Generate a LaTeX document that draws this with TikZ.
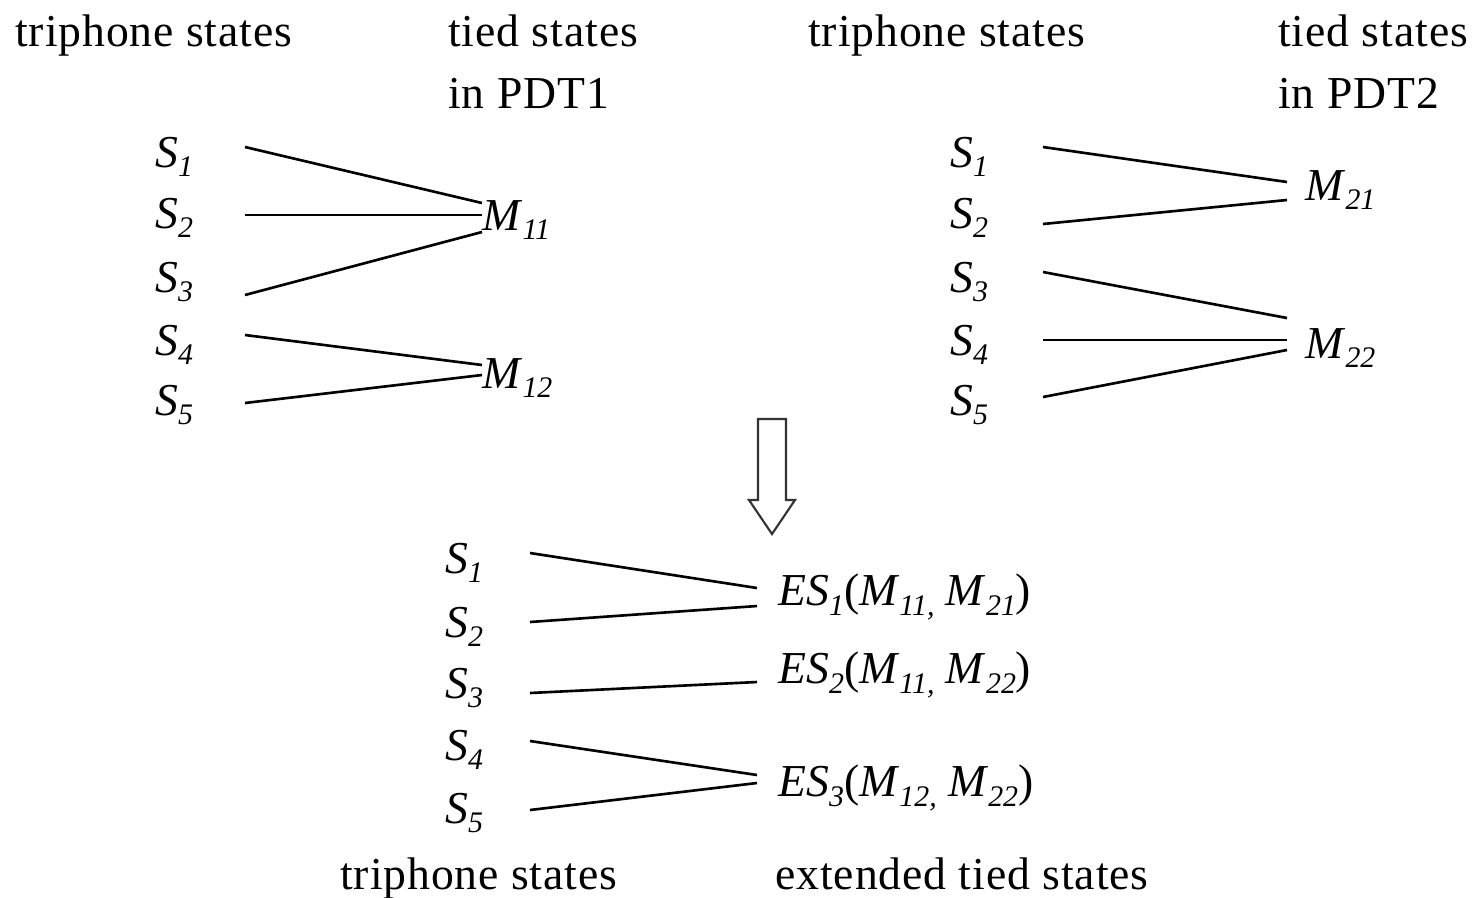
\documentclass[tikz,border=0pt]{standalone}
\usepackage{fontspec}
\setmainfont{Liberation Serif}
\newfontfamily\hdrfont[LetterSpace=2]{Liberation Serif}
\newcommand\isym[2]{\textit{#1}\raisebox{-0.45ex}{\fontsize{17}{18}\selectfont\textit{#2}}}
\begin{document}
\begin{tikzpicture}[x=0.02cm,y=-0.02cm,
  txt/.style={anchor=base west,inner sep=0pt,font=\hdrfont\fontsize{26}{30}\selectfont},
  lbl/.style={anchor=west,inner sep=0pt,font=\fontsize{26}{30}\selectfont},
  link/.style={line width=1.5pt,black}]
\useasboundingbox (0,0) rectangle (1481,897);
% headers
\node[txt] (h1) at (15,46) {triphone states};
\node[txt] (h2) at (448,46) {tied states};
\node[txt] (h3) at (448,108) {in PDT1};
\node[txt] (h4) at (808,46) {triphone states};
\node[txt] (h5) at (1278,46) {tied states};
\node[txt] (h6) at (1278,108) {in PDT2};
% state labels
\foreach \i/\y in {1/157,2/218,3/282,4/345,5/405}{
  \node[lbl] (aS\i) at (155,\y) {\isym{S}{\i}};
  \node[lbl] (bS\i) at (950,\y) {\isym{S}{\i}};
}
\foreach \i/\y in {1/563,2/627,3/688,4/750,5/813}{
  \node[lbl] (cS\i) at (445,\y) {\isym{S}{\i}};
}
\node[lbl] (M11) at (482,220) {\isym{M}{11}};
\node[lbl] (M12) at (482,378) {\isym{M}{12}};
\node[lbl] (M21) at (1305,190) {\isym{M}{21}};
\node[lbl] (M22) at (1305,348) {\isym{M}{22}};
\node[lbl] (ES1) at (778,597) {\isym{ES}{1}(\isym{M}{11,} \isym{M}{21})};
\node[lbl] (ES2) at (778,675) {\isym{ES}{2}(\isym{M}{11,} \isym{M}{22})};
\node[lbl] (ES3) at (778,788) {\isym{ES}{3}(\isym{M}{12,} \isym{M}{22})};
\node[txt] (f1) at (340,889) {triphone states};
\node[txt] (f2) at (775,889) {extended tied states};
% connector end points
\coordinate (a1) at (245,147); \coordinate (a2) at (245,215); \coordinate (a3) at (245,295);
\coordinate (a4) at (245,335); \coordinate (a5) at (245,403);
\coordinate (m11a) at (482,203); \coordinate (m11b) at (482,215); \coordinate (m11c) at (482,232);
\coordinate (m12a) at (482,365); \coordinate (m12b) at (482,375);
\draw[link] (a1) -- (m11a);
\draw[link] (a2) -- (m11b);
\draw[link] (a3) -- (m11c);
\draw[link] (a4) -- (m12a);
\draw[link] (a5) -- (m12b);
\coordinate (b1) at (1043,147); \coordinate (b2) at (1043,224); \coordinate (b3) at (1043,272);
\coordinate (b4) at (1043,340); \coordinate (b5) at (1043,397);
\coordinate (m21a) at (1287,182); \coordinate (m21b) at (1287,200);
\coordinate (m22a) at (1287,318); \coordinate (m22b) at (1287,340); \coordinate (m22c) at (1287,350);
\draw[link] (b1) -- (m21a);
\draw[link] (b2) -- (m21b);
\draw[link] (b3) -- (m22a);
\draw[link] (b4) -- (m22b);
\draw[link] (b5) -- (m22c);
\coordinate (c1) at (530,553); \coordinate (c2) at (530,622); \coordinate (c3) at (530,693);
\coordinate (c4) at (530,741); \coordinate (c5) at (530,810);
\coordinate (e1a) at (757,588); \coordinate (e1b) at (757,606); \coordinate (e2) at (757,682);
\coordinate (e3a) at (757,775); \coordinate (e3b) at (757,783);
\draw[link] (c1) -- (e1a);
\draw[link] (c2) -- (e1b);
\draw[link] (c3) -- (e2);
\draw[link] (c4) -- (e3a);
\draw[link] (c5) -- (e3b);
% hollow arrow
\draw[line width=1.2pt,black!80,line join=miter] (758,419) -- (786,419) -- (786,500) -- (795,500) -- (772,534) -- (749,500) -- (758,500) -- cycle;
\end{tikzpicture}
\end{document}
